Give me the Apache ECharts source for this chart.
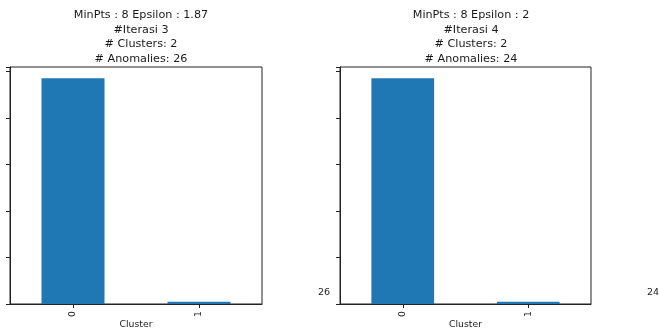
<!DOCTYPE html>
<html><head><meta charset="utf-8">
<script src="https://cdn.jsdelivr.net/npm/echarts@6/dist/echarts.min.js"></script>
<style>html,body{margin:0;padding:0;background:#fff}#c{width:659px;height:333px}</style>
</head><body><div id="c"></div>
<script>
var categories = ['0', '1'];
var leftValues = [485, 5];
var rightValues = [485, 5];
var leftTitle = ['MinPts : 8 Epsilon : 1.87', '#Iterasi 3', '# Clusters: 2', '# Anomalies: 26'];
var rightTitle = ['MinPts : 8 Epsilon : 2', '#Iterasi 4', '# Clusters: 2', '# Anomalies: 24'];
var sideTexts = ['26', '24'];
var xName = 'Cluster';

var font = 'DejaVu Sans';
var chart = echarts.init(document.getElementById('c'));
function xAxis(i) {
  return {
    type: 'category', gridIndex: i, data: categories,
    name: xName, nameLocation: 'middle', nameGap: 16, nameMoveOverlap: false,
    nameTextStyle: { fontFamily: font, fontSize: 9.3, color: '#222' },
    axisLine: { show: true, lineStyle: { color: '#222', width: 1 } },
    axisTick: { show: true, alignWithLabel: true, length: 4, lineStyle: { color: '#222' } },
    axisLabel: { rotate: 90, fontFamily: font, fontSize: 9.3, color: '#222', margin: 7 },
    splitLine: { show: false }
  };
}
function yAxis(i, vals) {
  return {
    type: 'value', gridIndex: i, min: 0, max: Math.max.apply(null, vals) * 1.05, interval: 100,
    axisLine: { show: true, lineStyle: { color: '#222', width: 1 } },
    axisTick: { show: true, length: 4, lineStyle: { color: '#222' } },
    axisLabel: { show: false },
    splitLine: { show: false }
  };
}
var titleStyle = { fontFamily: font, fontSize: 11.2, fontWeight: 'normal', color: '#1a1a1a', lineHeight: 14.5 };
var option = {
  animation: false,
  backgroundColor: '#fff',
  title: [
    { text: leftTitle.join('\n'), left: 136, top: 3, textAlign: 'center', textStyle: titleStyle },
    { text: rightTitle.join('\n'), left: 466, top: 3, textAlign: 'center', textStyle: titleStyle }
  ],
  grid: [
    { left: 10, top: 67, width: 252, height: 237, show: true, borderColor: '#222', borderWidth: 1, outerBoundsMode: 'none', containLabel: false },
    { left: 340, top: 67, width: 251, height: 237, show: true, borderColor: '#222', borderWidth: 1, outerBoundsMode: 'none', containLabel: false }
  ],
  xAxis: [xAxis(0), xAxis(1)],
  yAxis: [yAxis(0, leftValues), yAxis(1, rightValues)],
  series: [
    { type: 'bar', xAxisIndex: 0, yAxisIndex: 0, data: leftValues, barWidth: '50%', itemStyle: { color: '#1f77b4' } },
    { type: 'bar', xAxisIndex: 1, yAxisIndex: 1, data: rightValues, barWidth: '50%', itemStyle: { color: '#1f77b4' } }
  ],
  graphic: [
    { type: 'text', left: 318, top: 288, style: { text: sideTexts[0], font: '9.5px "DejaVu Sans"', fill: '#222' } },
    { type: 'text', left: 647, top: 288, style: { text: sideTexts[1], font: '9.5px "DejaVu Sans"', fill: '#222' } }
  ]
};
chart.setOption(option);
</script></body></html>
